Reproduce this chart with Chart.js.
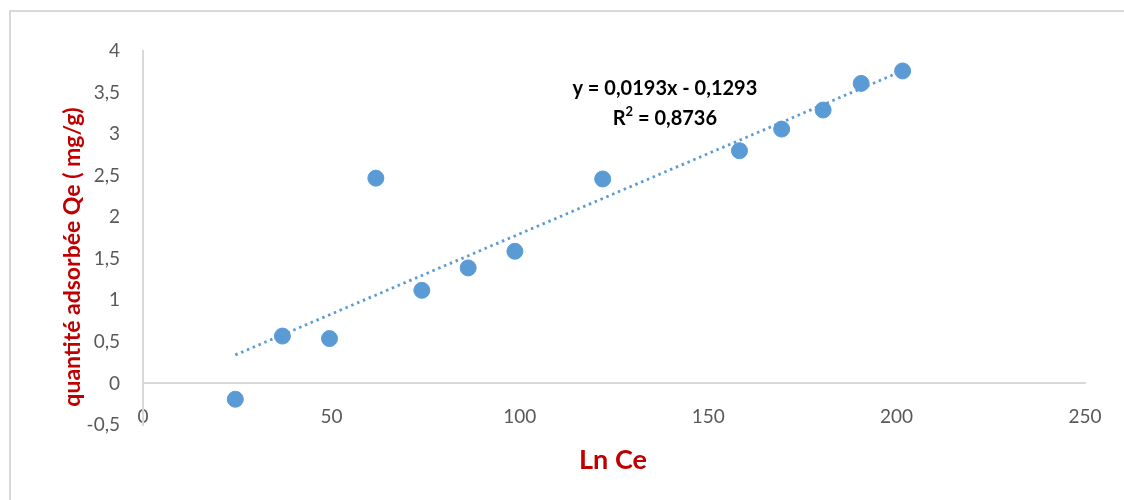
<!DOCTYPE html>
<html>
<head>
<meta charset="utf-8">
<script src="https://cdn.jsdelivr.net/npm/chart.js@4.4.0/dist/chart.umd.min.js"></script>
<style>
  html, body { margin: 0; padding: 0; background: #fff; overflow: hidden; }
  #frame { position: absolute; left: 9px; top: 10px; width: 1200px; height: 600px;
           border-top: 2px solid #d9d9d9; border-left: 2px solid #d9d9d9; }
  #chart { position: absolute; left: 0; top: 0; }
</style>
</head>
<body>
<div id="frame"></div>
<canvas id="chart" width="1124" height="500"></canvas>
<script>
// données (Ln Ce, Qe)
const lnCe = [24.5, 37.0, 49.5, 61.8, 74.0, 86.3, 98.7, 122.0, 158.3, 169.5, 180.5, 190.6, 201.6]
const qe = [-0.19, 0.57, 0.54, 2.47, 1.12, 1.39, 1.59, 2.46, 2.80, 3.06, 3.29, 3.61, 3.76]
const xTicks = [0, 50, 100, 150, 200, 250]
const yTicks = [-0.5, 0, 0.5, 1, 1.5, 2, 2.5, 3, 3.5, 4]

// courbe de tendance affichée
const slope = 0.0193
const intercept = -0.1293
const r2 = 0.8736
const equationText = "y = 0,0193x - 0,1293"
const labelPos = { x: 138.5, y: 3.55 }

const blue = "#5b9bd5"
const red = "#c00000"
const grey = "#595959"

const fmt = (v) => String(v).replace(".", ",")

const trendX = [Math.min(...lnCe), Math.max(...lnCe)]
const trendData = trendX.map((x) => ({ x: x, y: slope * x + intercept }))
const points = lnCe.map((x, i) => ({ x: x, y: qe[i] }))

// titres et équation
const textPlugin = {
  id: "texts",
  afterDraw(chart) {
    const ctx = chart.ctx
    const xs = chart.scales.x
    const ys = chart.scales.y
    const area = chart.chartArea
    ctx.save()
    ctx.textAlign = "center"
    ctx.textBaseline = "middle"

    // équation
    ctx.fillStyle = "#000"
    ctx.font = "bold 20px Lato"
    const lx = xs.getPixelForValue(labelPos.x)
    const ly = ys.getPixelForValue(labelPos.y)
    ctx.fillText(equationText, lx, ly)
    const r2Main = "R"
    const r2Rest = " = " + fmt(r2)
    const wR = ctx.measureText(r2Main).width
    ctx.font = "bold 13px Lato"
    const wSup = ctx.measureText("2").width
    ctx.font = "bold 20px Lato"
    const wRest = ctx.measureText(r2Rest).width
    const total = wR + wSup + wRest
    let sx = lx - total / 2
    const ry = ly + 30
    ctx.textAlign = "left"
    ctx.fillText(r2Main, sx, ry)
    ctx.font = "bold 13px Lato"
    ctx.fillText("2", sx + wR, ry - 7)
    ctx.font = "bold 20px Lato"
    ctx.fillText(r2Rest, sx + wR + wSup, ry)

    // titre axe x
    ctx.textAlign = "center"
    ctx.fillStyle = red
    ctx.font = "bold 27px Lato"
    ctx.fillText("Ln Ce", (area.left + area.right) / 2 - 1, 460)

    // titre axe y
    ctx.translate(73, 257)
    ctx.rotate(-Math.PI / 2)
    ctx.font = "bold 23px Lato"
    ctx.fillText("quantité adsorbée Qe ( mg/g)", 0, 0)
    ctx.restore()
  },
}

new Chart(document.getElementById("chart"), {
  type: "scatter",
  data: {
    datasets: [
      {
        label: "Qe",
        data: points,
        backgroundColor: blue,
        borderColor: blue,
        pointRadius: 8,
        pointHoverRadius: 8,
        order: 1,
      },
      {
        label: "tendance",
        data: trendData,
        showLine: true,
        borderColor: blue,
        borderWidth: 2.8,
        borderDash: [2.5, 3.8],
        pointRadius: 0,
        fill: false,
        order: 2,
      },
    ],
  },
  options: {
    responsive: false,
    animation: false,
    layout: { padding: { left: 0, top: 51, right: 39, bottom: 75 } },
    plugins: {
      legend: { display: false },
      tooltip: { enabled: false },
    },
    scales: {
      x: {
        type: "linear",
        position: { y: 0 },
        min: 0,
        max: 250,
        afterBuildTicks: (s) => { s.ticks = xTicks.map((v) => ({ value: v })) },
        grid: { display: false, drawTicks: false },
        border: { display: true, color: "#d9d9d9", width: 2 },
        ticks: { color: grey, font: { family: "Lato", size: 19 }, padding: 22, callback: fmt },
      },
      y: {
        type: "linear",
        min: -0.5,
        max: 4,
        afterBuildTicks: (s) => { s.ticks = yTicks.map((v) => ({ value: v })) },
        afterFit: (s) => { s.width = 143 },
        grid: { display: false, drawTicks: false },
        border: { display: true, color: "#d9d9d9", width: 2 },
        ticks: { color: grey, font: { family: "Lato", size: 19 }, padding: 23, callback: fmt },
      },
    },
  },
  plugins: [textPlugin],
})
</script>
</body>
</html>
